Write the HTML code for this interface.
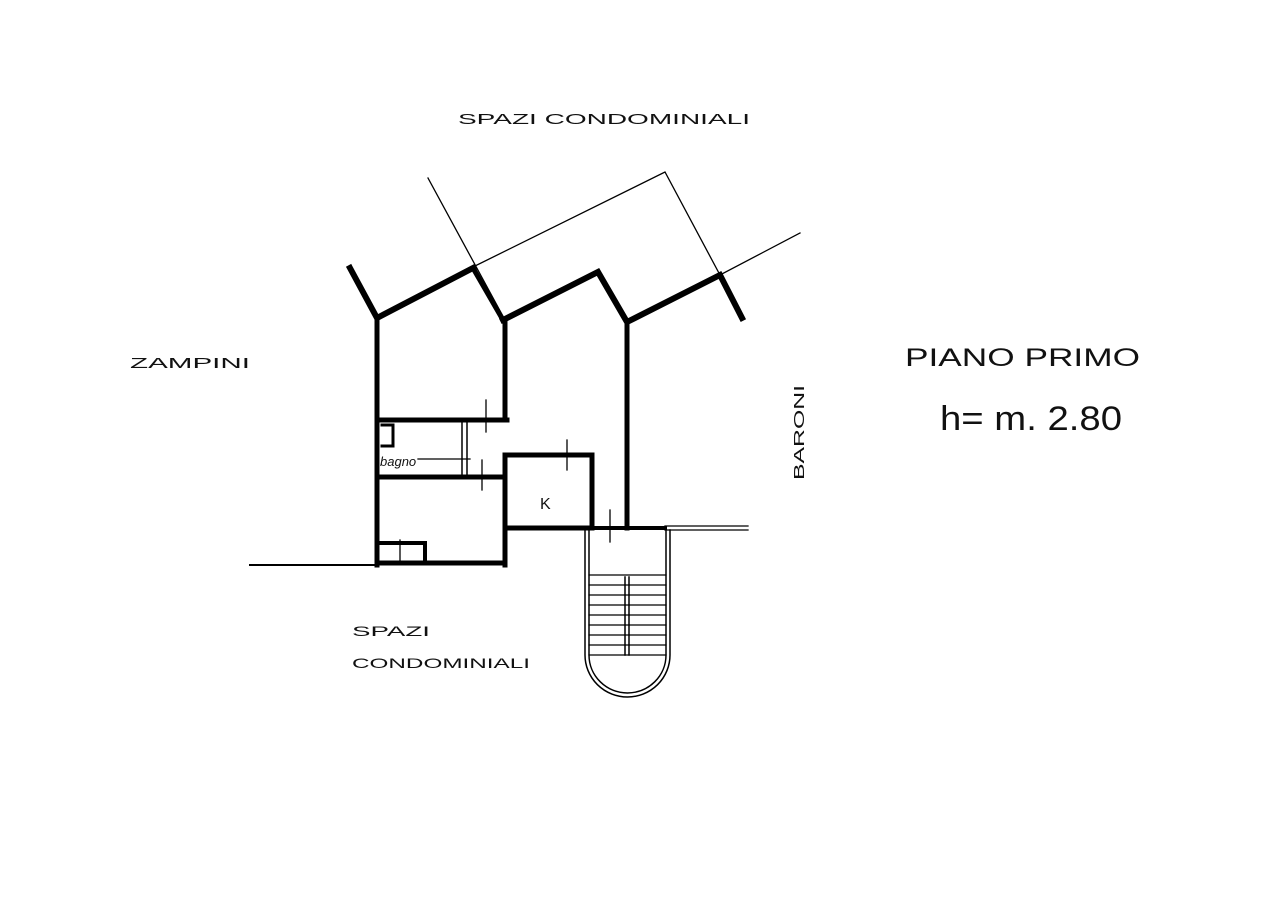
<!DOCTYPE html>
<html><head><style>body{margin:0;background:#fff}svg{display:block}text{font-family:"Liberation Sans",sans-serif;fill:#111}</style></head>
<body>
<svg width="1280" height="903" viewBox="0 0 1280 903" xmlns="http://www.w3.org/2000/svg">
<g stroke="#000" fill="none" stroke-linecap="square">
<path d="M428 178 L505 320 M473 267 L665 172 L720 275 L800 233" stroke-width="1.3"/>
<path d="M350 268 L377 318 L473 268 M503 320 L598 272 L627 322 M627 322 L720 275 L742 318" stroke-width="6"/>
<path d="M473 268 L503 320 M598 272 L627 322" stroke-width="5"/>
<path d="M377 318 V565 M505 320 V420 M377 420 H507 M627 322 V528 M377 477 H505 M505 475 V565 M377 563 H505" stroke-width="5"/>
<path d="M505 455 H592 V528 H505 Z" stroke-width="5"/>
<path d="M380 543 H425 V563" stroke-width="4"/>
<path d="M382 425 H393 V446 H382" stroke-width="3"/>
<path d="M462 422 V475 M467 422 V475" stroke-width="1.5"/>
<path d="M250 565 H377" stroke-width="2"/>
<path d="M592 528 H665" stroke-width="4"/>
<path d="M665 526 H748 M665 530 H748" stroke-width="1.3"/>
<path d="M486 400 V432 M400 540 V560 M482 460 V490 M567 440 V470 M610 510 V542 M418 459 H470" stroke-width="1.3"/>
<path d="M585 530 V655 A42.5 42 0 0 0 670 655 V530 M589 530 V655 A38.5 38 0 0 0 666 655 V530" stroke-width="1.5"/>
<path d="M589 575 H666 M589 585 H666 M589 595 H666 M589 605 H666 M589 615 H666 M589 625 H666 M589 635 H666 M589 645 H666 M589 655 H666" stroke-width="1.2"/>
<path d="M625 577 V655 M629 577 V655" stroke-width="1.5"/>
</g>
<text x="458" y="124" font-size="15" textLength="292" lengthAdjust="spacingAndGlyphs">SPAZI CONDOMINIALI</text>
<text x="130" y="368" font-size="15" textLength="120" lengthAdjust="spacingAndGlyphs">ZAMPINI</text>
<text x="905" y="366" font-size="25" textLength="235" lengthAdjust="spacingAndGlyphs">PIANO PRIMO</text>
<text x="940" y="430" font-size="34" textLength="182" lengthAdjust="spacingAndGlyphs">h= m. 2.80</text>
<text x="380" y="466" font-size="13" font-style="italic">bagno</text>
<text x="540" y="509" font-size="16">K</text>
<text x="352" y="636" font-size="14" textLength="78" lengthAdjust="spacingAndGlyphs">SPAZI</text>
<text x="352" y="668" font-size="14" textLength="178" lengthAdjust="spacingAndGlyphs">CONDOMINIALI</text>
<text transform="translate(804,480) rotate(-90)" font-size="15" textLength="95" lengthAdjust="spacingAndGlyphs">BARONI</text>
</svg>
</body></html>
